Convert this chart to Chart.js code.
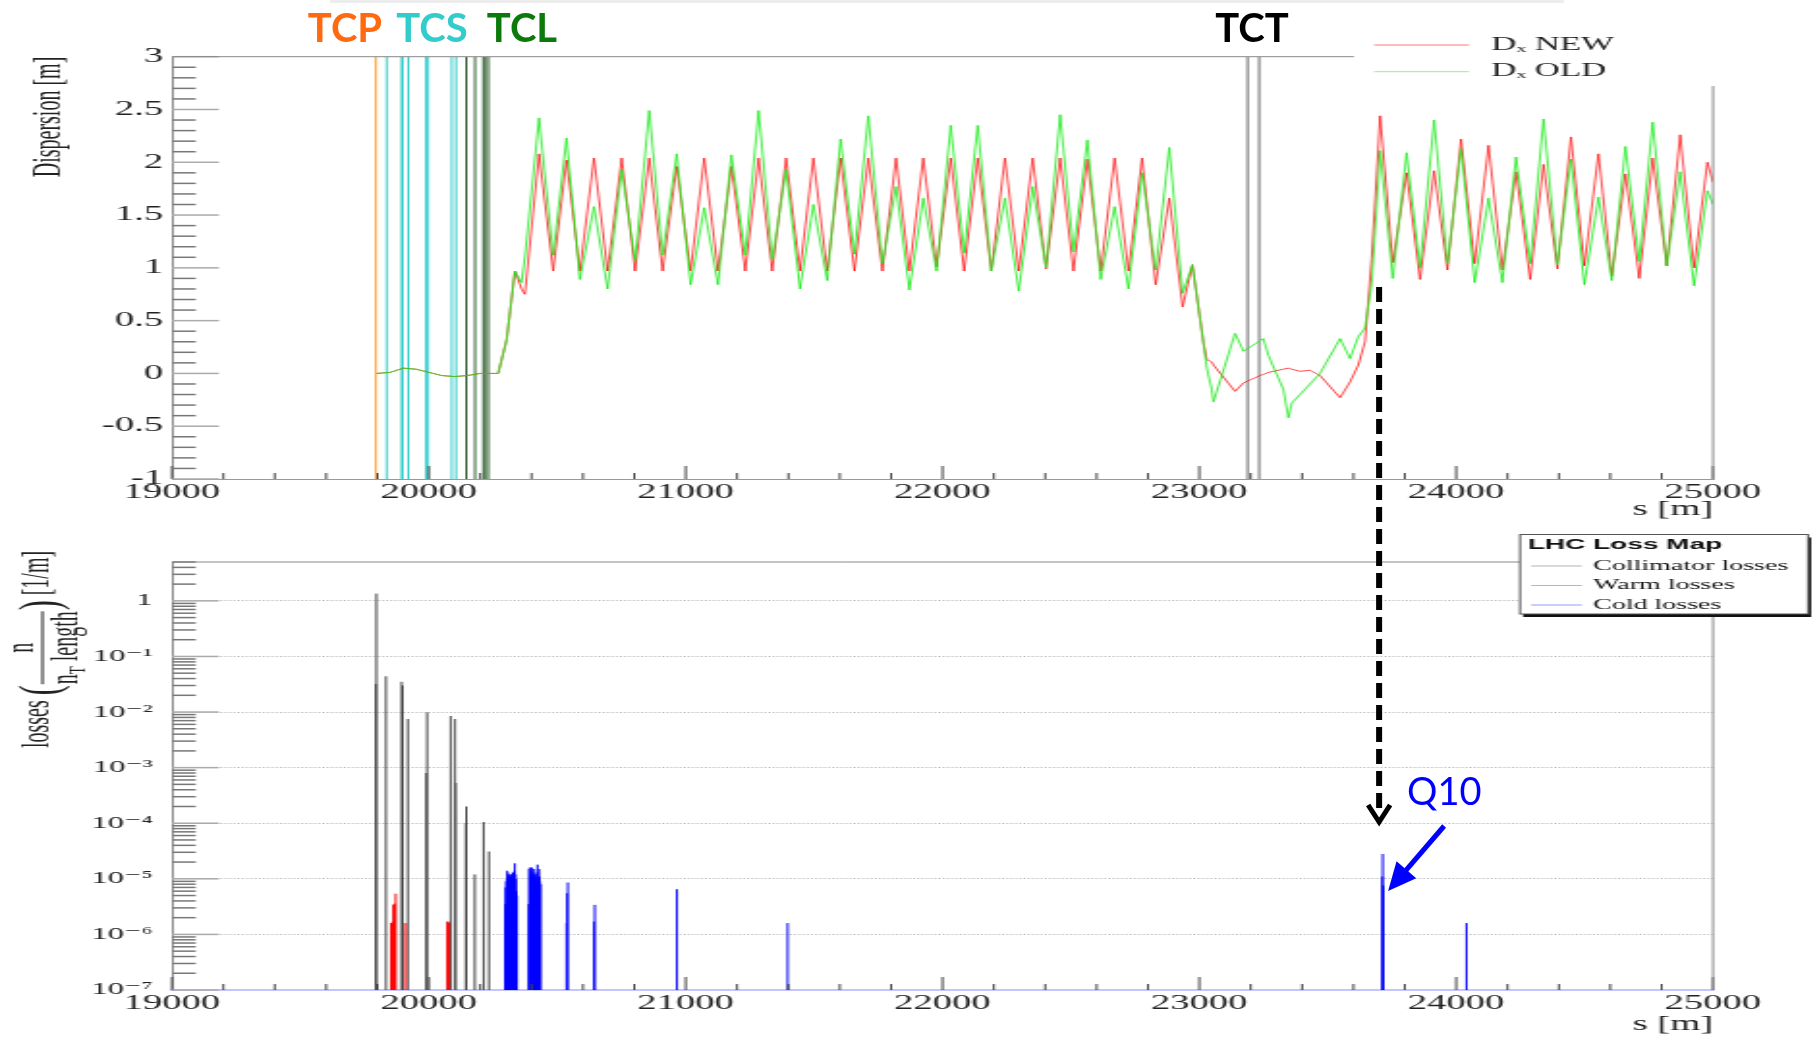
<!DOCTYPE html>
<html>
<head>
<meta charset="utf-8">
<script src="https://cdn.jsdelivr.net/npm/chart.js@4.4.1/dist/chart.umd.min.js"></script>
<style>
  html, body { margin: 0; padding: 0; background: #fff; overflow: hidden; }
  #page { position: relative; width: 1819px; height: 1038px; }
  /* the ROOT plots in the slide are stretched sideways, so the canvases are too */
  .plot { position: absolute; left: 0; width: 942px; transform: scaleX(1.931); transform-origin: 0 0; }
  #top { top: 0; height: 530px; }
  #bot { top: 530px; height: 508px; }
  #notes { position: absolute; left: 0; top: 0; pointer-events: none; }
</style>
</head>
<body>
<div id="page">
  <div class="plot" id="top"><canvas id="dispChart"></canvas></div>
  <div class="plot" id="bot"><canvas id="lossChart"></canvas></div>
  <canvas id="notes" width="1819" height="1038"></canvas>
</div>
<script>
// ---- dispersion along s (top plot) ----
const sPos = [19796, 19850, 19900, 19950, 20000, 20050, 20100, 20150, 20200, 20270,
  20303, 20335, 20361, 20374, 20429, 20484, 20536, 20588, 20643, 20696,
  20751, 20803, 20858, 20910, 20965, 21019, 21072, 21126, 21178, 21232,
  21284, 21337, 21391, 21445, 21497, 21551, 21603, 21657, 21711, 21766,
  21819, 21871, 21925, 21977, 22032, 22084, 22137, 22190, 22243, 22297,
  22351, 22403, 22458, 22510, 22564, 22616, 22670, 22724, 22777, 22830,
  22883, 22935, 22973, 23016, 23029, 23048, 23055, 23139, 23172, 23236,
  23249, 23269, 23327, 23347, 23360, 23392, 23431, 23470, 23548, 23587,
  23619, 23645, 23671, 23704, 23753, 23807, 23859, 23914, 23966, 24019,
  24072, 24126, 24180, 24233, 24288, 24340, 24394, 24447, 24499, 24554,
  24606, 24659, 24713, 24765, 24820, 24872, 24926, 24978, 25000];
const dxNew = [0.00, 0.01, 0.05, 0.04, 0.01, -0.02, -0.03, -0.02, 0.00, 0.00,
  0.32, 0.97, 0.80, 0.75, 2.08, 0.97, 2.02, 0.97, 2.04, 0.97,
  2.04, 0.97, 2.04, 0.97, 1.96, 0.97, 2.04, 0.97, 1.96, 0.97,
  2.04, 0.97, 2.04, 0.97, 2.04, 0.97, 2.04, 0.97, 2.04, 0.97,
  2.04, 0.97, 2.04, 1.01, 2.04, 0.97, 2.04, 0.97, 2.04, 0.97,
  2.04, 0.99, 2.04, 0.97, 2.03, 0.97, 2.04, 0.97, 2.04, 0.84,
  1.66, 0.63, 1.03, 0.29, 0.13, 0.11, 0.08, -0.17, -0.09, -0.02,
  -0.01, 0.01, 0.04, 0.05, 0.04, 0.02, 0.03, -0.02, -0.23, -0.08,
  0.08, 0.30, 1.09, 2.44, 1.05, 1.90, 0.89, 1.92, 0.98, 2.22,
  1.04, 2.16, 0.98, 1.91, 0.89, 1.98, 0.99, 2.24, 1.02, 2.08,
  0.92, 1.89, 0.90, 2.04, 1.02, 2.26, 1.00, 2.00, 1.81];
const dxOld = [0.00, 0.01, 0.05, 0.04, 0.01, -0.02, -0.03, -0.02, 0.00, 0.00,
  0.32, 0.97, 0.86, 1.10, 2.42, 1.12, 2.23, 0.89, 1.58, 0.80,
  1.93, 1.07, 2.49, 1.12, 2.08, 0.84, 1.57, 0.84, 2.07, 1.12,
  2.49, 1.08, 1.93, 0.80, 1.60, 0.88, 2.22, 1.13, 2.44, 1.04,
  1.77, 0.79, 1.66, 0.97, 2.35, 1.14, 2.35, 0.97, 1.66, 0.78,
  1.77, 1.00, 2.45, 1.15, 2.21, 0.89, 1.58, 0.80, 1.90, 0.98,
  2.14, 0.76, 1.03, 0.29, 0.05, -0.15, -0.27, 0.38, 0.21, 0.31,
  0.33, 0.17, -0.15, -0.42, -0.28, -0.20, -0.10, 0.00, 0.33, 0.14,
  0.35, 0.43, 0.85, 2.11, 0.90, 2.09, 1.00, 2.40, 1.04, 2.13,
  0.86, 1.66, 0.86, 2.05, 1.04, 2.41, 1.03, 2.03, 0.84, 1.67,
  0.88, 2.15, 1.06, 2.38, 1.02, 1.91, 0.83, 1.73, 1.60];

// collimator positions [m]
const tcpS = [19794];
const tcsS = [19836, 19894, 19898, 19920, 19989, 19997, 20089, 20106];
const tclS = [20146, 20180, 20212, 20219, 20232];
const tctS = [23188, 23233];

// ---- loss map (bottom plot) ----
const collS = [19794, 19796, 19833, 19894, 19898, 19918, 19990, 19993, 20085, 20102, 20104, 20144, 20146, 20179, 20213, 20234];
const collV = [0.032, 1.35, 0.044, 0.035, 0.030, 0.0075, 8e-4, 0.0099, 0.0085, 0.0075, 5.3e-4, 1e-4, 2e-4, 1.2e-5, 1.05e-4, 3.1e-5];
const warmS = [19853, 19856, 19859, 19862, 19865, 19868, 19871, 19909, 20072, 20075, 20078];
const warmV = [1.6e-6, 1.6e-6, 1.7e-6, 3.4e-6, 3.5e-6, 3.6e-6, 5.4e-6, 1.6e-6, 1.7e-6, 1.7e-6, 1.6e-6];
const coldS = [20297, 20299, 20301, 20303, 20305, 20307, 20309, 20311, 20313, 20315, 20317, 20319,
  20321, 20323, 20325, 20327, 20329, 20331, 20333, 20335, 20337, 20339, 20341, 20343,
  20389, 20391, 20393, 20395, 20397, 20399, 20401, 20403, 20405, 20407, 20409, 20411,
  20413, 20415, 20417, 20419, 20421, 20423, 20425, 20427, 20429, 20431, 20433, 20435,
  20536, 20538, 20541, 20643, 20646, 20966, 21397, 23712, 23714, 23716, 24040];
const coldV = [3.5e-6, 7e-6, 9e-6, 1.0e-5, 1.4e-5, 1.3e-5, 9e-6, 1.1e-5, 1.2e-5, 1.0e-5, 1.2e-5, 1.1e-5,
  9e-6, 1.2e-5, 1.0e-5, 1.3e-5, 1.1e-5, 1.2e-5, 1.4e-5, 1.9e-5, 1.2e-5, 1.0e-5, 6e-6, 5e-6,
  3.5e-6, 1.5e-5, 1.6e-5, 1.2e-5, 1.0e-5, 1.4e-5, 1.6e-5, 1.1e-5, 1.3e-5, 9e-6, 1.2e-5, 1.5e-5,
  1.0e-5, 1.2e-5, 9e-6, 1.1e-5, 1.3e-5, 1.8e-5, 1.0e-5, 9e-6, 1.5e-5, 1.1e-5, 9e-6, 8e-6,
  1.6e-6, 5.5e-6, 8.6e-6, 1.7e-6, 3.4e-6, 6.5e-6, 1.6e-6, 1.1e-5, 2.8e-5, 7.6e-6, 1.6e-6];
const lossFloor = 1e-7;
const markS = 23700;   // where the dashed arrow points

const S = 1819 / 942;          // sideways stretch of the plot canvases
const cx = v => v / S;         // page x -> canvas x
const serif = '"Liberation Serif", "DejaVu Serif", serif';

function vlines(list, y0, y1) {
  const pts = [];
  list.forEach(s => pts.push({x: s, y: y0}, {x: s, y: y1}, {x: s, y: null}));
  return pts;
}
function needles(sArr, vArr) {
  const pts = [];
  sArr.forEach((s, i) => pts.push({x: s, y: lossFloor}, {x: s, y: vArr[i]}, {x: s, y: null}));
  return pts;
}
const sup = n => String(n).split('').map(c => ({'-': '⁻', '0': '⁰', '1': '¹', '2': '²', '3': '³', '4': '⁴', '5': '⁵', '6': '⁶', '7': '⁷', '8': '⁸', '9': '⁹'}[c])).join('');

// inward ROOT style ticks
const rootTicks = {
  id: 'rootTicks',
  afterDatasetsDraw(chart) {
    const {ctx, chartArea: a, scales: {x, y}} = chart;
    ctx.save();
    ctx.lineWidth = 1;
    ctx.strokeStyle = '#444';
    for (let s = x.min; s <= x.max; s += 200) {
      const p = x.getPixelForValue(s);
      ctx.beginPath();
      ctx.moveTo(p, a.bottom);
      ctx.lineTo(p, a.bottom - (s % 1000 === 0 ? 13 : 6));
      ctx.stroke();
    }
    const yt = [];
    if (y.type === 'logarithmic') {
      for (let e = -7; e <= 0; e++) {
        for (let k = 1; k <= 9; k++) {
          const v = k * Math.pow(10, e);
          if (v <= y.max * 1.0001) yt.push([v, k === 1]);
        }
      }
    } else {
      for (let i = 0; i <= 40; i++) yt.push([y.min + i * 0.1, i % 5 === 0]);
    }
    ctx.lineWidth = 1.5;
    yt.forEach(([v, major]) => {
      const p = y.getPixelForValue(v);
      ctx.strokeStyle = major ? '#aaa' : '#777';
      ctx.beginPath();
      ctx.moveTo(a.left, p);
      ctx.lineTo(a.left + (major ? 24.3 : 12.3), p);
      ctx.stroke();
    });
    ctx.restore();
  }
};

// top and right side of the frame, cut where the legend sits
const frame = {
  id: 'frame',
  afterDraw(chart, args, o) {
    const {ctx, chartArea: a} = chart;
    ctx.save();
    ctx.strokeStyle = '#888';
    ctx.lineWidth = 1;
    ctx.beginPath();
    ctx.moveTo(a.left, a.top);
    ctx.lineTo(o.topEnd, a.top);
    ctx.moveTo(a.right, o.rightStart);
    ctx.lineTo(a.right, a.bottom);
    ctx.stroke();
    ctx.restore();
  }
};

const dxLegend = {
  id: 'dxLegend',
  afterDraw(chart, args, o) {
    const ctx = chart.ctx;
    ctx.save();
    ctx.font = '18px ' + serif;
    ctx.textBaseline = 'middle';
    chart.data.datasets.filter(d => d.inLegend).forEach((d, i) => {
      const y = o.y0 + i * o.dy;
      ctx.globalAlpha = 0.45;
      ctx.strokeStyle = d.borderColor;
      ctx.lineWidth = 1.3;
      ctx.beginPath(); ctx.moveTo(o.x0, y); ctx.lineTo(o.x1, y); ctx.stroke();
      ctx.globalAlpha = 1;
      ctx.fillStyle = '#222';
      ctx.fillText(d.label, o.xt, y);
    });
    ctx.restore();
  }
};

const lossLegend = {
  id: 'lossLegend',
  afterDraw(chart, args, o) {
    const ctx = chart.ctx;
    ctx.save();
    ctx.fillStyle = '#111';
    ctx.fillRect(o.left + 1.6, o.top + 3, o.right - o.left, o.bottom - o.top);
    ctx.fillStyle = '#fff';
    ctx.fillRect(o.left, o.top, o.right - o.left, o.bottom - o.top);
    ctx.strokeStyle = '#555';
    ctx.lineWidth = 1;
    ctx.strokeRect(o.left, o.top, o.right - o.left, o.bottom - o.top);
    ctx.fillStyle = '#111';
    ctx.textBaseline = 'middle';
    ctx.font = 'bold 14.5px "Liberation Sans", Arial, sans-serif';
    ctx.fillText('LHC Loss Map', o.left + 4, o.top + 10.5);
    ctx.font = '14.5px ' + serif;
    chart.data.datasets.filter(d => d.inLegend).forEach((d, i) => {
      const y = o.y0 + i * o.dy;
      ctx.globalAlpha = 0.4;
      ctx.strokeStyle = d.borderColor;
      ctx.lineWidth = 1;
      ctx.beginPath(); ctx.moveTo(o.x0, y); ctx.lineTo(o.x1, y); ctx.stroke();
      ctx.globalAlpha = 1;
      ctx.fillStyle = '#111';
      ctx.fillText(d.label, o.xt, y);
    });
    ctx.restore();
  }
};

// y title  losses (n / nT length) [1/m], written bottom to top
const lossTitle = {
  id: 'lossTitle',
  afterDraw(chart) {
    const ctx = chart.ctx;
    const base = 25.4;
    ctx.save();
    ctx.fillStyle = '#222';
    ctx.translate(0, 218);
    ctx.rotate(-Math.PI / 2);
    ctx.textBaseline = 'alphabetic';
    const f20 = '20px ' + serif, f30 = '30px ' + serif, f13 = '13px ' + serif;
    let x = 0;
    ctx.font = f20;
    ctx.fillText('losses', x, base);
    x += ctx.measureText('losses ').width;
    ctx.font = f30;
    ctx.fillText('(', x, 30);
    x += ctx.measureText('(').width + 1;
    ctx.font = f20;
    const wn = ctx.measureText('n').width;
    const wl = ctx.measureText(' length').width;
    ctx.font = f13;
    const wt = ctx.measureText('T').width;
    const w = wn + wt + wl;
    ctx.font = f20;
    ctx.fillText('n', x + (w - wn) / 2, 17.4);
    ctx.fillRect(x, 21.5, w, 1);
    ctx.fillText('n', x, 39.9);
    ctx.font = f13;
    ctx.fillText('T', x + wn, 43.5);
    ctx.font = f20;
    ctx.fillText(' length', x + wn + wt, 39.9);
    x += w + 1;
    ctx.font = f30;
    ctx.fillText(')', x, 30);
    x += ctx.measureText(')').width;
    ctx.font = f20;
    ctx.fillText(' [1/m]', x, base);
    ctx.restore();
  }
};

// slide annotations (labels, dashed arrow, Q10) on the full size overlay
function drawNotes(chart) {
  const g = document.getElementById('notes').getContext('2d');
  g.clearRect(0, 0, 1819, 1038);
  g.fillStyle = 'rgba(0,0,0,0.07)';
  g.fillRect(330, 0, 1234, 3);

  g.font = 'bold 40px Lato, "Open Sans", sans-serif';
  g.textAlign = 'center';
  g.textBaseline = 'alphabetic';
  [['TCP', '#ff6a10', 345], ['TCS', '#33cccc', 432], ['TCL', '#0b7a0b', 522], ['TCT', '#000', 1252]]
    .forEach(([t, c, x]) => { g.fillStyle = c; g.fillText(t, x, 42); });

  const qx = chart.scales.x.getPixelForValue(markS) * S;
  g.strokeStyle = '#000';
  g.lineWidth = 6;
  g.setLineDash([15, 7]);
  g.beginPath(); g.moveTo(qx, 287); g.lineTo(qx, 815); g.stroke();
  g.setLineDash([]);
  g.lineWidth = 5;
  g.beginPath(); g.moveTo(qx - 11, 805); g.lineTo(qx, 822); g.lineTo(qx + 11, 805); g.stroke();

  g.fillStyle = '#0000ff';
  g.strokeStyle = '#0000ff';
  g.font = '38px Lato, "Open Sans", sans-serif';
  g.textAlign = 'left';
  g.fillText('Q10', qx + 28, 805);
  const ax0 = qx + 65, ay0 = 826, ax1 = qx + 9, ay1 = 891;
  const len = Math.hypot(ax1 - ax0, ay1 - ay0), ux = (ax1 - ax0) / len, uy = (ay1 - ay0) / len;
  g.lineWidth = 5;
  g.beginPath(); g.moveTo(ax0, ay0); g.lineTo(ax1 - ux * 20, ay1 - uy * 20); g.stroke();
  g.beginPath();
  g.moveTo(ax1, ay1);
  g.lineTo(ax1 - ux * 28 - uy * 13, ay1 - uy * 28 + ux * 13);
  g.lineTo(ax1 - ux * 28 + uy * 13, ay1 - uy * 28 - ux * 13);
  g.closePath(); g.fill();
}
const notes = { id: 'notes', afterRender(chart) { drawNotes(chart); } };

const common = {
  animation: false,
  responsive: true,
  maintainAspectRatio: false,
  elements: { point: { radius: 0 }, line: { tension: 0 } },
};

const dispChart = new Chart(document.getElementById('dispChart'), {
  type: 'line',
  data: {
    datasets: [
      { label: 'TCP', data: vlines(tcpS, -1, 3), borderColor: '#ffa030', borderWidth: 1, order: 5 },
      { label: 'TCS', data: vlines(tcsS, -1, 3), borderColor: '#33cccc', borderWidth: 1, order: 5 },
      { label: 'TCL', data: vlines(tclS, -1, 3), borderColor: '#2e5e2e', borderWidth: 1, order: 5 },
      { label: 'TCT', data: vlines(tctS, -1, 3), borderColor: '#444', borderWidth: 0.8, order: 5 },
      { label: 'Dₓ NEW', inLegend: true, data: sPos.map((s, i) => ({x: s, y: dxNew[i]})),
        borderColor: 'rgba(255,0,0,0.8)', borderWidth: 0.9, order: 1 },
      { label: 'Dₓ OLD', inLegend: true, data: sPos.map((s, i) => ({x: s, y: dxOld[i]})),
        borderColor: 'rgba(20,235,20,0.9)', borderWidth: 0.9, order: 0 }
    ]
  },
  options: Object.assign({}, common, {
    layout: { padding: { left: 0, top: 56.7, right: 942 - cx(1713), bottom: 0 } },
    plugins: {
      legend: { display: false }, tooltip: { enabled: false },
      frame: { topEnd: cx(1354), rightStart: 86 },
      dxLegend: { x0: cx(1374), x1: cx(1469), xt: cx(1491), y0: 45, dy: 26.7 }
    },
    scales: {
      x: {
        type: 'linear', min: 19000, max: 25000,
        ticks: { stepSize: 1000, autoSkip: false, maxRotation: 0, padding: 2, color: '#222',
                 font: { family: serif, size: 20 }, callback: v => String(v) },
        grid: { display: false, drawTicks: false },
        border: { color: '#999', width: 1 },
        title: { display: true, text: 's [m]', align: 'end', color: '#222',
                 font: { family: serif, size: 20 }, padding: { top: 0, bottom: 8 } },
        afterFit: s => { s.height = 530 - 479; }
      },
      y: {
        min: -1, max: 3,
        ticks: { stepSize: 0.5, padding: 4.6, color: '#222', font: { family: serif, size: 20 },
                 callback: v => String(v) },
        grid: { display: false, drawTicks: false },
        border: { color: '#888', width: 1 },
        title: { display: true, text: 'Dispersion [m]', align: 'end', color: '#222',
                 font: { family: serif, size: 20 }, padding: { top: 13.6, bottom: 0 } },
        afterFit: s => { s.width = cx(172); }
      }
    }
  }),
  plugins: [rootTicks, frame, dxLegend]
});

const lossChart = new Chart(document.getElementById('lossChart'), {
  type: 'line',
  data: {
    datasets: [
      { label: 'Collimator losses', inLegend: true, data: needles(collS, collV), borderColor: '#444', borderWidth: 1, order: 2 },
      { label: 'Warm losses', inLegend: true, data: needles(warmS, warmV), borderColor: '#ff0000', borderWidth: 1, order: 1 },
      { label: 'Cold losses', inLegend: true, data: needles(coldS, coldV), borderColor: '#0000ff', borderWidth: 1, order: 0 }
    ]
  },
  options: Object.assign({}, common, {
    layout: { padding: { left: 0, top: 32, right: 942 - cx(1713), bottom: 0 } },
    plugins: {
      legend: { display: false }, tooltip: { enabled: false },
      frame: { topEnd: cx(1520), rightStart: 85 },
      lossLegend: { left: cx(1520), top: 4.5, right: cx(1808), bottom: 84,
                    x0: cx(1531), x1: cx(1582), xt: cx(1593), y0: 36, dy: 19.5 }
    },
    scales: {
      x: {
        type: 'linear', min: 19000, max: 25000,
        ticks: { stepSize: 1000, autoSkip: false, maxRotation: 0, padding: 2, color: '#222',
                 font: { family: serif, size: 20 }, callback: v => String(v) },
        grid: { display: false, drawTicks: false },
        border: { color: '#c4c4ff', width: 2 },
        title: { display: true, text: 's [m]', align: 'end', color: '#222',
                 font: { family: serif, size: 20 }, padding: { top: 0, bottom: 1 } },
        afterFit: s => { s.height = 48; }
      },
      y: {
        type: 'logarithmic', min: lossFloor, max: 5,
        afterBuildTicks: s => {
          s.ticks = s.ticks.filter(t => Math.abs(Math.log10(t.value) - Math.round(Math.log10(t.value))) < 1e-6);
        },
        ticks: { padding: 10, color: '#222', font: { family: serif, size: 17 },
                 callback: v => { const e = Math.round(Math.log10(v)); return e === 0 ? '1' : '10' + sup(e); } },
        grid: { display: true, drawTicks: false, color: '#b8b8b8', lineWidth: 1 },
        border: { color: '#888', width: 1, dash: [1, 1.2] },
        title: { display: false },
        afterFit: s => { s.width = cx(172); }
      }
    }
  }),
  plugins: [rootTicks, frame, lossLegend, lossTitle, notes]
});
</script>
</body>
</html>
